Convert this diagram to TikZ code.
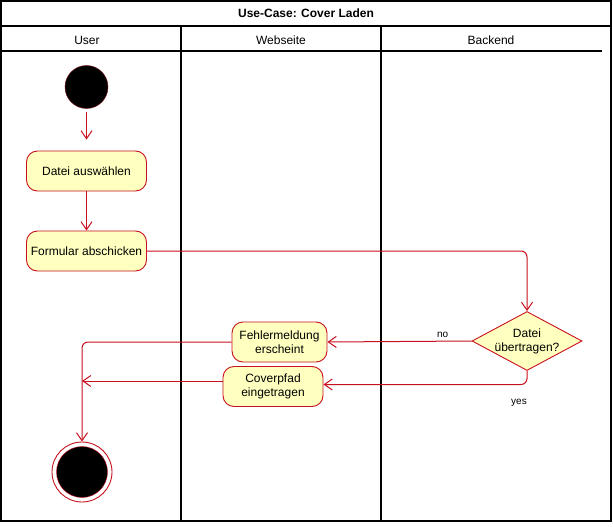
\documentclass[tikz,border=0pt]{standalone}
\usepackage{fontspec}
\setmainfont{Liberation Sans}
\usetikzlibrary{arrows.meta,shapes.geometric,positioning}

\definecolor{umlred}{RGB}{200,16,30}
\definecolor{umlfill}{RGB}{255,255,192}

\begin{document}
\begin{tikzpicture}[x=1pt,y=-1pt,
  font=\fontsize{12}{14}\selectfont,
  frame/.style={draw=black,line width=1.2pt},
  action/.style={draw=umlred,line width=0.9pt,fill=umlfill,rectangle,rounded corners=11pt,
    minimum height=40pt,align=center,inner sep=2pt},
  decision/.style={draw=umlred,line width=0.9pt,fill=umlfill,diamond,minimum width=110pt,
    minimum height=59pt,inner sep=0pt},
  flow/.style={draw=umlred,line width=1pt,rounded corners=6pt,
    -{Straight Barb[length=8pt,width=11pt]}},
  small/.style={font=\fontsize{10}{12}\selectfont}]
\useasboundingbox (0,0) rectangle (613,527);
\fill[white] (0,0) rectangle (613,527);

% swimlanes
\draw[frame] (1,1) rectangle (611,521);
\draw[frame] (1,26) -- (611,26);
\draw[frame] (1,51) -- (602,51);
\draw[frame] (181,26) -- (181,521);
\draw[frame] (381,26) -- (381,521);
\node[font=\bfseries\fontsize{12}{14}\selectfont] (title) at (306,13) {Use-Case: Cover Laden};
\node (user) at (87,40) {User};
\node (web) at (281,40) {Webseite};
\node (backend) at (491,40) {Backend};

% activities
\node[circle,fill=black,draw=umlred!60!black,minimum size=43pt,inner sep=0pt] (start) at (86.5,87) {};
\node[action,minimum width=120pt] (pick) at (86.5,171) {Datei auswählen};
\node[action,minimum width=120pt] (send) at (86.5,251) {Formular abschicken};
\node[decision,label={[align=center]center:Datei\\übertragen?}] (check) at (527,341) {};
\node[action,minimum width=95pt] (error) at (279.5,342) {Fehlermeldung\\erscheint};
\node[action,minimum width=100pt] (cover) at (273,386.5) {Coverpfad\\eingetragen};
\node[circle,draw=umlred,line width=0.9pt,minimum size=60pt,inner sep=0pt] (stop) at (82,472) {};
\node[circle,fill=black,draw=umlred,minimum size=51pt,inner sep=0pt] (stopdot) at (82,472) {};
\coordinate (merge) at (82,381);

% transitions
\draw[flow,shorten <=3pt,shorten >=11pt] (start.south) -- (pick.north);
\draw[flow] (pick.south) -- (send.north);
\draw[flow] (send.east) -| (check.north);
\draw[flow] (check.west) -- (error.east) node[pos=0.2,above,small] {no};
\draw[flow] (check.south) |- ([yshift=2pt]cover.east);
\node[small] (yes) at (519,403) {yes};
\draw[flow] (error.west) -| (stop.north);
\draw[flow] (cover.west |- merge) -- (merge);
\end{tikzpicture}
\end{document}
